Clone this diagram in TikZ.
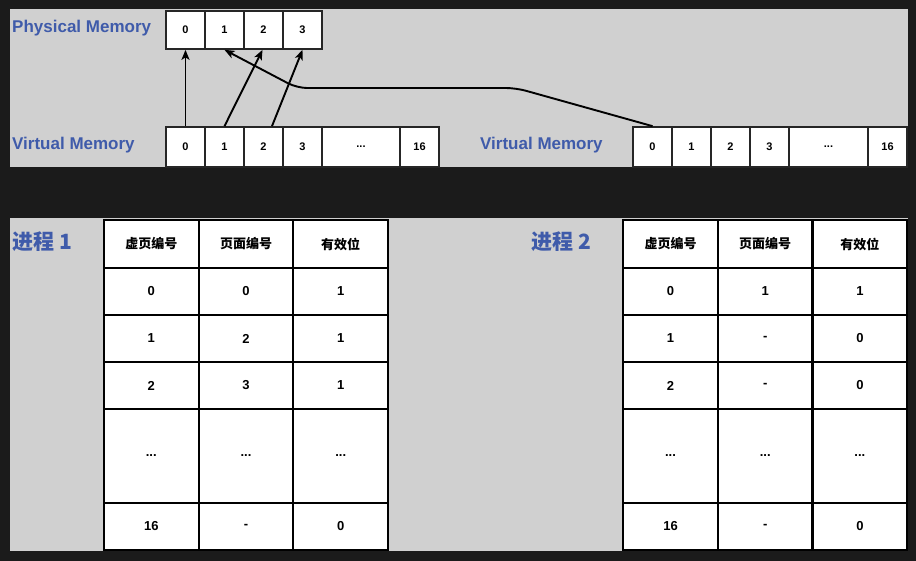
\documentclass[tikz,border=0pt]{standalone}
\usepackage{fontspec}
\setmainfont{Liberation Sans}
\newfontfamily\cjk{Noto Sans CJK SC}
\usetikzlibrary{arrows.meta}
\definecolor{bgdark}{HTML}{1B1B1B}
\definecolor{panel}{HTML}{D0D0D0}
\definecolor{lblue}{HTML}{3F5BAA}
\newcommand\mydots{...}
\newcommand\hdA{{\cjk\bfseries\fontsize{13}{13}\selectfont 虚页编号}}
\newcommand\hdB{{\cjk\bfseries\fontsize{13}{13}\selectfont 页面编号}}
\newcommand\hdC{{\cjk\bfseries\fontsize{13}{13}\selectfont 有效位}}
\tikzset{
  memcell/.style={draw=black!85, line width=1.7pt, fill=white, inner sep=0pt,
    minimum width=39pt, font=\bfseries\fontsize{11}{11}\selectfont},
  tcell/.style={draw=black, line width=2.2pt, fill=white, inner sep=0pt,
    minimum width=94.7pt, font=\bfseries\fontsize{13}{13}\selectfont},
  lbl/.style={text=lblue, inner sep=0pt, font=\bfseries\fontsize{17}{17}\selectfont},
  plbl/.style={text=lblue, inner sep=0pt, font=\cjk\bfseries\fontsize{21}{21}\selectfont},
  arr/.style={draw=black, line width=1.9pt, -{Stealth[length=10pt,width=8pt,inset=2.5pt]}},
}
\begin{document}
\begin{tikzpicture}[x=1pt,y=-1pt]
\useasboundingbox (0,0) rectangle (916,561);
\fill[bgdark] (0,0) rectangle (916,561);
\fill[panel] (10,9) rectangle (908,167);
\fill[panel] (10,218) rectangle (908,551);

% labels
\node[lbl, anchor=west] (lphys) at (12,28) {Physical Memory};
\node[lbl, anchor=west] (lvirt1) at (12,145) {Virtual Memory};
\node[lbl, anchor=west] (lvirt2) at (480,145) {Virtual Memory};
\node[plbl, anchor=west] (lp1) at (12,242) {进程 1};
\node[plbl, anchor=east] (lp2) at (591,242) {进程 2};

% physical memory
\foreach \i/\xc in {0/185.5,1/224.5,2/263.5,3/302.5}
  \node[memcell, minimum height=38pt] (p\i) at (\xc,30) {\i};

% virtual memory (process 1)
\foreach \i/\xc/\w/\t in {0/185.5/39/0,1/224.5/39/1,2/263.5/39/2,3/302.5/39/3,d/361/78/\mydots,16/419.5/39/16}
  \node[memcell, minimum height=40pt, minimum width=\w pt] (v\i) at (\xc,147) {\t};

% virtual memory (process 2)
\foreach \i/\xc/\w/\t in {0/652.5/39/0,1/691.5/39/1,2/730.5/39/2,3/769.5/39/3,d/828.5/79/\mydots,16/887.5/39/16}
  \node[memcell, minimum height=40pt, minimum width=\w pt] (w\i) at (\xc,147) {\t};

% mappings
\draw[arr] (v0.north) -- (p0.south);
\draw[arr] (v1.north) -- ([xshift=-1pt]p2.south);
\draw[arr] ([xshift=8.5pt]v2.north) -- (p3.south);
\coordinate (c1) at (516,88);
\coordinate (c2) at (297,88);
\draw[arr, rounded corners=10pt] (w0.north) -- (c1) -- (c2) -- (p1.south);

% table process 1
\foreach \n/\yc/\h/\a/\b/\c in {
  h/244/48/\hdA/\hdB/\hdC,
  0/291.5/47/0/0/1,
  1/338.5/47/1/2/1,
  2/385.5/47/2/3/1,
  d/456/94/\mydots/\mydots/\mydots,
  x/526.5/47/16/-/0}
{
  \node[tcell, minimum height=\h pt] (La\n) at (151.3,\yc) {\a};
  \node[tcell, minimum height=\h pt] (Lb\n) at (246,\yc) {\b};
  \node[tcell, minimum height=\h pt] (Lc\n) at (340.7,\yc) {\c};
}

% table process 2
\foreach \n/\yc/\h/\a/\b/\c in {
  h/244/48/\hdA/\hdB/\hdC,
  0/291.5/47/0/1/1,
  1/338.5/47/1/-/0,
  2/385.5/47/2/-/0,
  d/456/94/\mydots/\mydots/\mydots,
  x/526.5/47/16/-/0}
{
  \node[tcell, minimum height=\h pt] (Ra\n) at (670.5,\yc) {\a};
  \node[tcell, minimum height=\h pt] (Rb\n) at (765.2,\yc) {\b};
  \node[tcell, minimum height=\h pt] (Rc\n) at (859.9,\yc) {\c};
}
\end{tikzpicture}
\end{document}
